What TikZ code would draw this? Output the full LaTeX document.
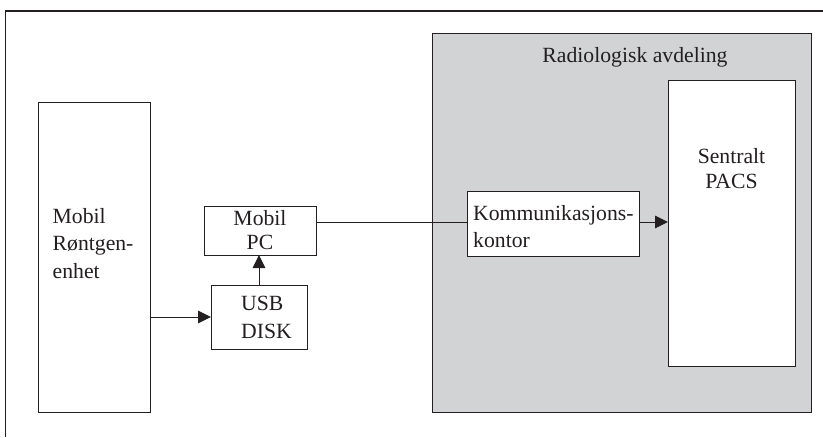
\documentclass[tikz,border=0pt]{standalone}
\usepackage{fontspec}
\setmainfont{Liberation Serif}
\usetikzlibrary{arrows.meta}
\definecolor{lin}{HTML}{231F20}
\definecolor{grayfill}{HTML}{D1D3D4}
\tikzset{
  box/.style={draw=lin, line width=1.1pt, fill=white, inner sep=0pt},
  conn/.style={draw=lin, line width=1pt},
  arr/.style={conn, -{Triangle[length=13pt, width=12.5pt]}},
  txt/.style={font=\fontsize{21.7}{27.5}\selectfont, text=lin, inner sep=0pt},
}
\begin{document}
\begin{tikzpicture}[x=1pt, y=-1pt]
\useasboundingbox (0,0) rectangle (823,437);
% outer frame (top and left)
\draw[draw=lin, line width=1.1pt] (5.5,437) -- (5.5,11) -- (823,11);
% gray department
\node[draw=lin, line width=1.1pt, fill=grayfill, minimum width=379pt, minimum height=379pt, inner sep=0pt, anchor=north west] (dept) at (432,33) {};
\node[txt, anchor=base] (depttitle) at (635,62.5) {Radiologisk avdeling};
% left box
\node[box, minimum width=112pt, minimum height=310pt, anchor=north west] (mobil) at (38,102) {};
\node[txt, align=left, anchor=base west] (mobiltxt) at (52.5,278) {Mobil\\Røntgen-\\enhet};
% Mobil PC
\node[box, minimum width=112pt, minimum height=49pt, anchor=north west] (pc) at (204,206) {};
\node[txt, align=center, anchor=base, font=\fontsize{21.7}{23.5}\selectfont] (pctxt) at (260,249) {Mobil\\PC};
% USB disk
\node[box, minimum width=96pt, minimum height=64pt, anchor=north west] (usb) at (211,285) {};
\node[txt, align=left, anchor=base west] (usbtxt) at (241,338) {USB\\DISK};
% Kommunikasjonskontor
\node[box, minimum width=172pt, minimum height=65pt, anchor=north west] (komm) at (467,191) {};
\node[txt, align=left, anchor=base west] (kommtxt) at (473,247.5) {Kommunikasjons-\\kontor};
% PACS
\node[box, minimum width=127pt, minimum height=286pt, anchor=north west] (pacs) at (668,80) {};
\node[txt, align=center, anchor=base, font=\fontsize{21.7}{25}\selectfont] (pacstxt) at (731.5,188) {Sentralt\\PACS};
% connectors
\coordinate (a1) at (mobil.east |- 0,317);
\coordinate (a2) at (usb.west |- 0,317);
\draw[arr] (a1) -- (a2);
\coordinate (b1) at (259,285);
\coordinate (b2) at (259,255);
\draw[arr] (b1) -- (b2);
\coordinate (c1) at (pc.east |- 0,222);
\coordinate (c2) at (komm.west |- 0,222);
\draw[conn] (c1) -- (c2);
\coordinate (d1) at (komm.east |- 0,222);
\coordinate (d2) at (pacs.west |- 0,222);
\draw[arr] (d1) -- (d2);
\end{tikzpicture}
\end{document}
